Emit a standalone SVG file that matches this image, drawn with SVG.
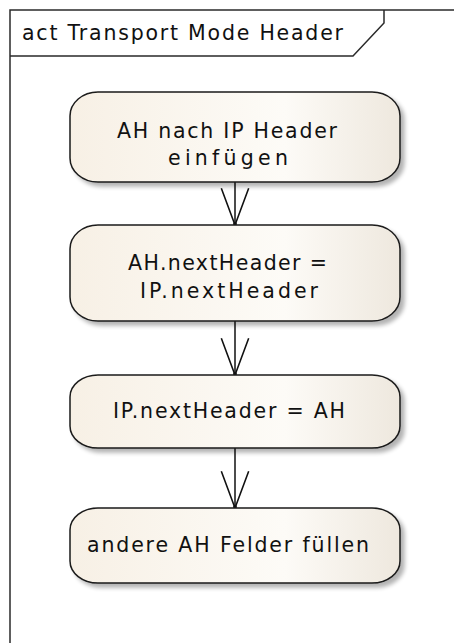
<svg xmlns="http://www.w3.org/2000/svg" width="454" height="643" viewBox="0 0 454 643">
  <defs>
    <linearGradient id="fillGrad" x1="0" y1="0" x2="1" y2="0">
      <stop offset="0" stop-color="#F7F0E5"/>
      <stop offset="0.65" stop-color="#FDFBF7"/>
      <stop offset="1" stop-color="#EEE8DE"/>
    </linearGradient>
    <filter id="shadow" x="-10%" y="-10%" width="130%" height="140%">
      <feGaussianBlur in="SourceAlpha" stdDeviation="2"/>
      <feOffset dx="4" dy="4" result="b"/>
      <feComponentTransfer><feFuncA type="linear" slope="0.3"/></feComponentTransfer>
      <feMerge><feMergeNode/><feMergeNode in="SourceGraphic"/></feMerge>
    </filter>
    <marker id="openArrow" markerUnits="userSpaceOnUse" markerWidth="40" markerHeight="30" refX="36" refY="14" orient="auto" viewBox="0 0 38 28">
      <path d="M1,1 L36,14 L1,27" fill="none" stroke="#111" stroke-width="1.5"/>
      <circle cx="35" cy="14" r="1.8" fill="#111"/>
    </marker>
  </defs>
  <style>
    .frame { fill: none; stroke: #2a2a2a; stroke-width: 1.5; }
    .node { fill: url(#fillGrad); stroke: #1a1a1a; stroke-width: 1.5; filter: url(#shadow); }
    .label { font-family: "DejaVu Sans", "Liberation Sans", sans-serif; font-size: 20.5px; fill: #111; }
    .edge { stroke: #111; stroke-width: 1.5; fill: none; }
  </style>
  <rect width="454" height="643" fill="#FFFFFF"/>
  <g id="frame">
    <path class="frame" d="M10,660 L10,10 L470,10"/>
    <path class="frame" d="M10,56 L353,56 L384,23 L384,10"/>
    <text class="label" x="22" y="40" textLength="321" lengthAdjust="spacing">act Transport Mode Header</text>
  </g>
  <g id="edges">
    <line class="edge" x1="235" y1="182" x2="235" y2="225" marker-end="url(#openArrow)"/>
    <line class="edge" x1="235" y1="321" x2="235" y2="375" marker-end="url(#openArrow)"/>
    <line class="edge" x1="235" y1="448" x2="235" y2="508" marker-end="url(#openArrow)"/>
  </g>
  <g id="node1">
    <rect class="node" x="70" y="92" width="330" height="90" rx="28" ry="24"/>
    <text class="label" x="227" y="138" text-anchor="middle" textLength="220" lengthAdjust="spacing">AH nach IP Header</text>
    <text class="label" x="228" y="165" text-anchor="middle" textLength="120" lengthAdjust="spacing">einfügen</text>
  </g>
  <g id="node2">
    <rect class="node" x="70" y="225" width="330" height="96" rx="28" ry="24"/>
    <text class="label" x="227.5" y="270" text-anchor="middle" textLength="199" lengthAdjust="spacing">AH.nextHeader =</text>
    <text class="label" x="229" y="298" text-anchor="middle" textLength="178" lengthAdjust="spacing">IP.nextHeader</text>
  </g>
  <g id="node3">
    <rect class="node" x="70" y="375" width="330" height="73" rx="28" ry="22"/>
    <text class="label" x="229" y="418" text-anchor="middle" textLength="232" lengthAdjust="spacing">IP.nextHeader = AH</text>
  </g>
  <g id="node4">
    <rect class="node" x="70" y="508" width="330" height="75" rx="28" ry="22"/>
    <text class="label" x="228" y="552" text-anchor="middle" textLength="282" lengthAdjust="spacing">andere AH Felder füllen</text>
  </g>
</svg>
